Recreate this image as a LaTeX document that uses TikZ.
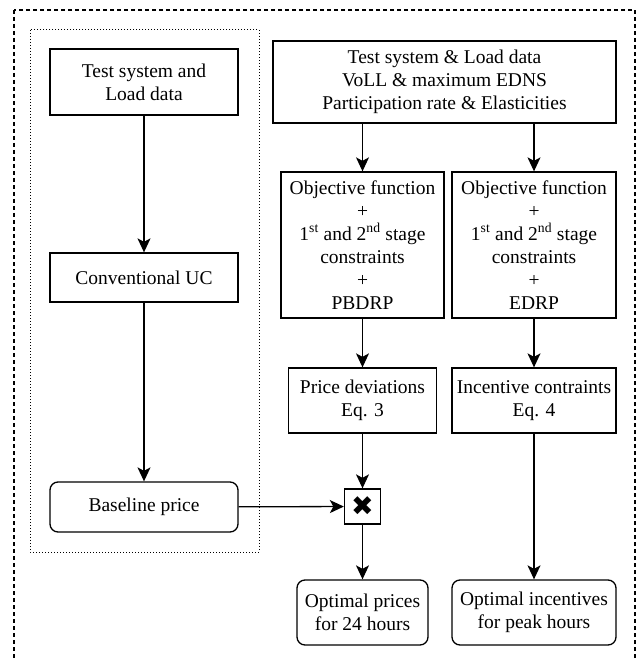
\documentclass[tikz,border=0pt]{standalone}
\usepackage{fontspec}
\setmainfont{Liberation Serif}
\newfontfamily\dingfont{DejaVu Sans}
\usetikzlibrary{arrows.meta}
\usetikzlibrary{positioning}
\tikzset{
   blk/.style={draw,line width=1.3pt,align=center,inner sep=0pt,
      font=\rmfamily\fontsize{19.5}{23}\selectfont},
   rblk/.style={blk,rounded corners=8pt},
   flow/.style={-{Stealth[length=14pt,width=13pt,inset=3.5pt]},line width=1.3pt},
   group/.style={draw,dotted,line width=1pt},
   frame/.style={draw,dash pattern=on 4pt off 3pt,line width=1.2pt},
}
\begin{document}
\begin{tikzpicture}[x=1pt,y=-1pt]

        \useasboundingbox (0,0) rectangle (636,660);
        \clip (0,0) rectangle (636,660);

        % frames
        \draw[frame] (14,10) rectangle (635,720);
        \draw[group] (30,30) rectangle (259,552);

        % conventional side
        \node[blk,minimum width=188pt,minimum height=66pt] (sys) at (144,82) {Test system and\\Load data};
        \node[blk,minimum width=188pt,minimum height=49pt] (uc) at (144,277.5) {Conventional UC};
        \node[rblk,minimum width=188pt,minimum height=50pt] (base) at (144,507) {Baseline price};

        % demand response side
        \node[blk,minimum width=343pt,minimum height=82pt] (data) at (444.5,82)
           {Test system \& Load data\\VoLL \& maximum EDNS\\Participation rate \& Elasticities};

        \node[blk,minimum width=163pt,minimum height=146pt] (objP) at (362.5,245)
           {Objective function\\+\\1\textsuperscript{st} and 2\textsuperscript{nd} stage\\constraints\\+\\PBDRP};
        \node[blk,minimum width=164pt,minimum height=146pt] (objE) at (534,245)
           {Objective function\\+\\1\textsuperscript{st} and 2\textsuperscript{nd} stage\\constraints\\+\\EDRP};

        \node[blk,minimum width=148pt,minimum height=65pt] (devP) at (362.5,400.5) {Price deviations\\Eq. 3};
        \node[blk,minimum width=164pt,minimum height=65pt] (incE) at (534,400.5) {Incentive contraints\\Eq. 4};

        \node[blk,minimum width=36pt,minimum height=35pt] (mult) at (362.5,506.5) {\dingfont\fontsize{27}{27}\selectfont ✖};

        \node[rblk,minimum width=131pt,minimum height=65pt] (optP) at (362.5,612.5) {Optimal prices\\for 24 hours};
        \node[rblk,minimum width=164pt,minimum height=65pt] (optE) at (534,612.5) {Optimal incentives\\for peak hours};

        % arrows
        \draw[flow] (sys) -- (uc);
        \draw[flow] (uc) -- (base);
        \draw[flow] (objP.north |- data.south) -- (objP.north);
        \draw[flow] (objE.north |- data.south) -- (objE.north);
        \draw[flow] (objP) -- (devP);
        \draw[flow] (objE) -- (incE);
        \draw[flow] (devP) -- (mult);
        \draw[flow] (base) -- (mult);
        \draw[flow] (mult) -- (optP);
        \draw[flow] (incE) -- (optE);

      \end{tikzpicture}
\end{document}
